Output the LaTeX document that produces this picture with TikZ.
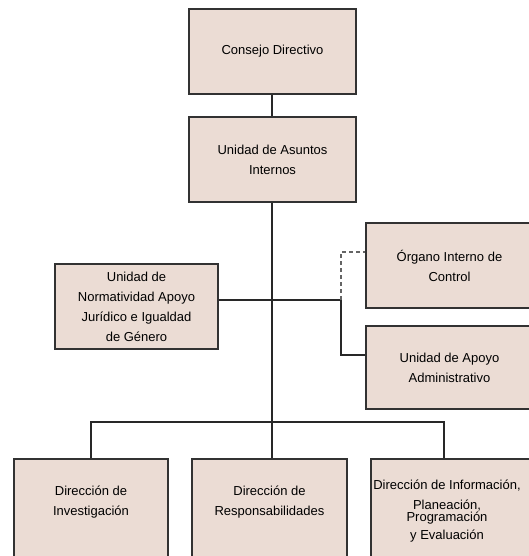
\documentclass[tikz,border=0pt]{standalone}
\usepackage{fontspec}
\setmainfont{Liberation Sans}
\definecolor{boxfill}{RGB}{235,220,212}
\definecolor{boxline}{RGB}{50,50,50}
\definecolor{conn}{RGB}{40,40,40}
\definecolor{dashc}{RGB}{100,100,100}
\begin{document}
\begin{tikzpicture}[x=1pt,y=-1pt,
  orgbox/.style={draw=boxline,line width=1.2pt,fill=boxfill,inner sep=0pt,
    font=\fontsize{13}{20}\selectfont,align=center},
  txt/.style={inner sep=0pt,font=\fontsize{13}{20}\selectfont,align=center},
  link/.style={draw=conn,line width=1.3pt},
  dlink/.style={draw=dashc,line width=1.3pt,dash pattern=on 4pt off 3pt}]
\useasboundingbox (0,0) rectangle (529,556);
% top
\node[orgbox,minimum width=167,minimum height=85] (cd) at (272.5,51.5) {Consejo Directivo};
\node[orgbox,minimum width=167,minimum height=85] (uai) at (272.5,159.5) {Unidad de Asuntos\\Internos};
% middle
\node[orgbox,minimum width=163,minimum height=85] (norm) at (136.5,306.5) {Unidad de\\Normatividad Apoyo\\Jurídico e Igualdad\\de Género};
\node[orgbox,minimum width=167,minimum height=85] (oic) at (449.5,265.5) {Órgano Interno de\\Control};
\node[orgbox,minimum width=167,minimum height=83] (uaa) at (449.5,367.5) {Unidad de Apoyo\\Administrativo};
% bottom boxes
\node[orgbox,minimum width=154,minimum height=110] (d1) at (91,514) {};
\node[orgbox,minimum width=155,minimum height=110] (d2) at (269.5,514) {};
\node[orgbox,minimum width=166,minimum height=110] (d3) at (454,514) {};
\node[txt] (d1t) at (91,502) {Dirección de\\Investigación};
\node[txt] (d2t) at (269.5,502) {Dirección de\\Responsabilidades};
\node[txt] (d3t) at (447,511) {Dirección de Información,\\[0pt]Planeación,\\[-7.4pt]Programación\\[-2.3pt]y Evaluación};
% junctions
\coordinate (j1) at (272,300);
\coordinate (j2) at (341,300);
\coordinate (bus) at (272,422);
\coordinate (b3) at (444,422);
\coordinate (dtop) at (341,252);
\coordinate (stop) at (341,355);
% connectors
\draw[link] (cd.south -| bus) -- (uai.north -| bus);
\draw[link] (uai.south -| bus) -- (bus);
\draw[link] (norm.east |- j1) -- (j1) -- (j2);
\draw[dlink] (j2) -- (dtop) -- (oic.west |- dtop);
\draw[link] (j2) -- (stop) -- (uaa.west |- stop);
\draw[link] (d1.north) -- (d1.north |- bus) -- (b3) -- (b3 |- d3.north);
\draw[link] (bus) -- (bus |- d2.north);
\end{tikzpicture}
\end{document}
